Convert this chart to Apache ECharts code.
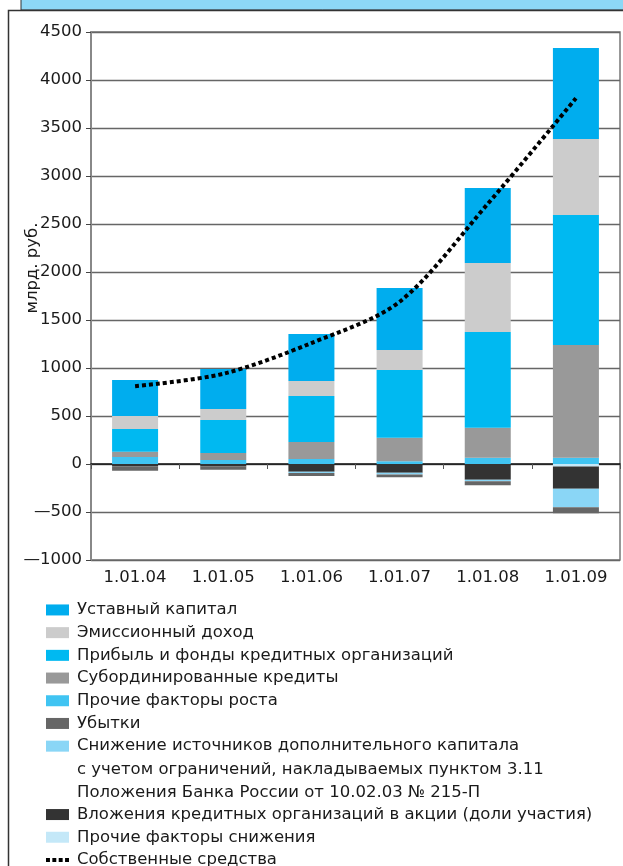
<!DOCTYPE html>
<html>
<head>
<meta charset="utf-8">
<script src="https://cdn.jsdelivr.net/npm/echarts@6/dist/echarts.min.js"></script>
<style>
html,body{margin:0;padding:0;background:#fff;}
#c{width:623px;height:866px;}
</style>
</head>
<body>
<div id="c"></div>
<script>
const categories = ['1.01.04','1.01.05','1.01.06','1.01.07','1.01.08','1.01.09'];
const yTicks = [-1000,-500,0,500,1000,1500,2000,2500,3000,3500,4000,4500];
const ustavny = [375, 417, 489, 646, 781, 948];
const emission = [135, 115, 157, 208, 719, 791];
const pribyl = [237, 343, 479, 705, 997, 1354];
const subord = [55, 73, 177, 246, 312, 1174];
const prochieRost = [73, 42, 52, 28, 66, 66];
const prochieSnizh = [0, 0, 0, 0, 0, -25];
const vlozheniya = [-25, -25, -80, -92, -165, -232];
const snizhenie = [0, 0, -14, -17, -14, -194];
const ubytki = [-45, -35, -30, -30, -42, -63];
const sobstv = [810, 940, 1260, 1690, 2710, 3810];

const N_UST = 'Уставный капитал';
const N_EMI = 'Эмиссионный доход';
const N_PRI = 'Прибыль и фонды кредитных организаций';
const N_SUB = 'Субординированные кредиты';
const N_PRR = 'Прочие факторы роста';
const N_UBY = 'Убытки';
const SN_LINES = ['Снижение источников дополнительного капитала',
                  'с учетом ограничений, накладываемых пунктом 3.11',
                  'Положения Банка России от 10.02.03 № 215-П'];
const N_SNI = SN_LINES.join(' ');
const N_VLO = 'Вложения кредитных организаций в акции (доли участия)';
const N_PRS = 'Прочие факторы снижения';
const N_SOB = 'Собственные средства';

const FONT = 'DejaVu Sans';
const FS = 16.5;
const chart = echarts.init(document.getElementById('c'));

function bar(name, data, color) {
  return { name, type: 'bar', stack: 'a', data, barWidth: 46,
    itemStyle: { color }, emphasis: { disabled: true } };
}

const legendText = { fontSize: FS, fontFamily: FONT, color: '#1a1a1a', lineHeight: 22.7, padding: [0,0,0,3] };
const dotsIcon = 'path://M0,0h3.6v3.6h-3.6z M5.8,0h3.6v3.6h-3.6z M11.6,0h3.6v3.6h-3.6z M17.4,0h3.6v3.6h-3.6z';

chart.setOption({
  animation: false,
  grid: { left: 91, right: 3, top: 32, bottom: 306, show: true, borderColor: '#777', borderWidth: 1.5 },
  xAxis: {
    type: 'category', data: categories,
    axisLine: { lineStyle: { color: '#111', width: 1.5 } },
    axisTick: { show: true, length: 5, lineStyle: { color: '#555' } },
    axisLabel: { fontSize: FS, fontFamily: FONT, color: '#1a1a1a', margin: 9 }
  },
  yAxis: {
    type: 'value', min: -1000, max: 4500, interval: 500,
    name: 'млрд. руб.', nameLocation: 'middle', nameGap: 50, nameMoveOverlap: false,
    nameTextStyle: { fontSize: FS, fontFamily: FONT, color: '#1a1a1a', padding: [0,0,0,56] },
    axisLine: { show: true, onZero: false, lineStyle: { color: '#888', width: 2 } },
    axisTick: { show: true, length: 5, lineStyle: { color: '#444' } },
    axisLabel: { fontSize: FS, fontFamily: FONT, color: '#1a1a1a', margin: 9,
      formatter: v => v < 0 ? '—' + Math.abs(v) : String(v) },
    splitLine: { lineStyle: { color: '#666', width: 1.3 } }
  },
  legend: [
    { orient: 'vertical', left: 46, top: 598.6, padding: 0, itemWidth: 23, itemHeight: 11, itemGap: 0,
      icon: 'rect', textStyle: legendText, selectedMode: false,
      formatter: n => n === N_SNI ? SN_LINES[0] : n,
      data: [N_UST, N_EMI, N_PRI, N_SUB, N_PRR, N_UBY, N_SNI] },
    { orient: 'vertical', left: 46, top: 803.2, height: 80, padding: 0, itemWidth: 23, itemHeight: 11, itemGap: 0,
      textStyle: legendText, selectedMode: false,
      data: [{ name: N_VLO, icon: 'rect' }, { name: N_PRS, icon: 'rect' },
             { name: N_SOB, icon: dotsIcon, itemStyle: { color: '#000' } }] }
  ],
  graphic: [
    { type: 'rect', shape: { x: 21, y: -5, width: 610, height: 15 },
      style: { fill: '#8dd8f6', stroke: '#333', lineWidth: 1 }, z: 10 },
    { type: 'rect', shape: { x: 8.5, y: 10.5, width: 640, height: 900 },
      style: { fill: 'none', stroke: '#333', lineWidth: 1.5 }, z: 10, silent: true },
    { type: 'text', x: 77, y: 770, style: { text: SN_LINES[1], fontSize: FS, fontFamily: FONT, fill: '#1a1a1a', verticalAlign: 'middle' } },
    { type: 'text', x: 77, y: 793, style: { text: SN_LINES[2], fontSize: FS, fontFamily: FONT, fill: '#1a1a1a', verticalAlign: 'middle' } }
  ],
  series: [
    bar(N_PRR, prochieRost, '#40c4f2'),
    bar(N_SUB, subord, '#999999'),
    bar(N_PRI, pribyl, '#00b9f1'),
    bar(N_EMI, emission, '#cccccc'),
    bar(N_UST, ustavny, '#00adee'),
    bar(N_PRS, prochieSnizh, '#c4e8f8'),
    bar(N_VLO, vlozheniya, '#333333'),
    bar(N_SNI, snizhenie, '#8ad6f6'),
    bar(N_UBY, ubytki, '#666666'),
    { name: N_SOB, type: 'line', data: sobstv, smooth: 0.3, symbol: 'none', z: 5,
      lineStyle: { color: '#000', width: 4, type: [4, 3] }, itemStyle: { color: '#000' } }
  ]
});
</script>
</body>
</html>
